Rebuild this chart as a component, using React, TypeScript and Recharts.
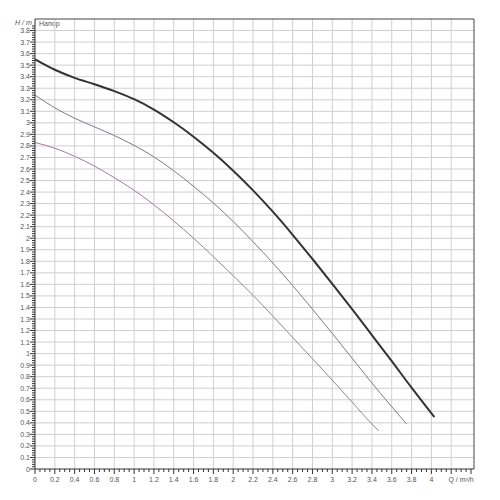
import { LineChart, Line, XAxis, YAxis, ReferenceLine } from "recharts";

// flow Q (m³/h) and head H (m), one array per speed
const qHigh = [0, 0.2, 0.4, 0.6, 0.8, 1.0, 1.2, 1.4, 1.6, 1.8, 2.0, 2.2, 2.4, 2.6, 2.8, 3.0, 3.2, 3.4, 3.6, 3.8, 4.03];
const hHigh = [3.55, 3.46, 3.39, 3.335, 3.275, 3.205, 3.115, 3.005, 2.88, 2.74, 2.585, 2.415, 2.23, 2.03, 1.82, 1.605, 1.385, 1.16, 0.935, 0.705, 0.45];

const qMid = [0, 0.2, 0.4, 0.6, 0.8, 1.0, 1.2, 1.4, 1.6, 1.8, 2.0, 2.2, 2.4, 2.6, 2.8, 3.0, 3.2, 3.4, 3.75];
const hMid = [3.24, 3.13, 3.04, 2.965, 2.89, 2.805, 2.705, 2.585, 2.45, 2.305, 2.145, 1.97, 1.785, 1.59, 1.385, 1.175, 0.96, 0.745, 0.39];

const qLow = [0, 0.2, 0.4, 0.6, 0.8, 1.0, 1.2, 1.4, 1.6, 1.8, 2.0, 2.2, 2.4, 2.6, 2.8, 3.0, 3.2, 3.4, 3.47];
const hLow = [2.83, 2.78, 2.71, 2.625, 2.525, 2.415, 2.29, 2.15, 2.0, 1.84, 1.675, 1.505, 1.325, 1.14, 0.955, 0.77, 0.58, 0.39, 0.33];

// axes
const qMax = 4.43;
const hMax = 3.9;
const qGrid = [0.2, 0.4, 0.6, 0.8, 1, 1.2, 1.4, 1.6, 1.8, 2, 2.2, 2.4, 2.6, 2.8, 3, 3.2, 3.4, 3.6, 3.8, 4, 4.2];
const qLabelMax = 4;
const qTicks = Array.from({ length: 89 }, (_, i) => Math.round(i * 5) / 100);
const hTicks = Array.from({ length: 196 }, (_, i) => Math.round(i * 2) / 100);
const hGrid = Array.from({ length: 38 }, (_, i) => Math.round((i + 1) * 10) / 100);

const highData = qHigh.map((q, i) => ({ q, h: hHigh[i] }));
const midData = qMid.map((q, i) => ({ q, h: hMid[i] }));
const lowData = qLow.map((q, i) => ({ q, h: hLow[i] }));

const font = "'Liberation Sans', Arial, sans-serif";
const labelColor = "#555";
const tickColor = "#333";
const gridColor = "#cfcfcf";

const isStep = (v: number, step: number) => Math.abs(v / step - Math.round(v / step)) < 1e-6;
const fmt = (v: number) => String(Math.round(v * 10) / 10);

function QTick({ x, y, payload }: any) {
  const v = payload.value;
  const major = isStep(v, 0.2);
  return (
    <g>
      <line x1={x} x2={x} y1={y} y2={y + (major ? 5 : 3)} stroke={tickColor} strokeWidth={1} />
      {major && v <= qLabelMax + 1e-6 && (
        <text x={x} y={y + 12.5} textAnchor="middle" fontSize={7} fontFamily={font} fill={labelColor}>
          {fmt(v)}
        </text>
      )}
      {Math.abs(v - 4.3) < 1e-6 && (
        <text x={x} y={y + 12.5} textAnchor="middle" fontSize={7} fontFamily={font} fill={labelColor}>
          Q / m³/h
        </text>
      )}
    </g>
  );
}

function HTick({ x, y, payload }: any) {
  const v = payload.value;
  const major = isStep(v, 0.1);
  if (v > hMax - 0.05) return <g />;
  return (
    <g>
      <line x1={x} x2={x - (major ? 5 : 3)} y1={y} y2={y} stroke={tickColor} strokeWidth={1} />
      {major && (
        <text x={x - 5} y={y + 2.5} textAnchor="end" fontSize={7} fontFamily={font} fill={labelColor}>
          {fmt(v)}
        </text>
      )}
    </g>
  );
}

export default function App() {
  return (
    <div style={{ position: "absolute", left: 0, top: 0, width: 500, height: 500, background: "#fff" }}>
      <LineChart width={500} height={500} margin={{ top: 19, right: 26, bottom: 0, left: 0 }}>
        <XAxis
          type="number"
          dataKey="q"
          domain={[0, qMax]}
          ticks={qTicks}
          interval={0}
          height={31}
          tickSize={0}
          tickMargin={0}
          tickLine={false}
          axisLine={{ stroke: tickColor }}
          tick={<QTick />}
          allowDataOverflow
        />
        <YAxis
          type="number"
          domain={[0, hMax]}
          ticks={hTicks}
          interval={0}
          width={35}
          tickSize={0}
          tickMargin={0}
          tickLine={false}
          axisLine={{ stroke: tickColor }}
          tick={<HTick />}
          allowDataOverflow
        />
        {qGrid.map((v) => (
          <ReferenceLine key={"qx" + v} x={v} stroke={gridColor} />
        ))}
        {hGrid.map((v) => (
          <ReferenceLine key={"hy" + v} y={v} stroke={gridColor} />
        ))}
        <ReferenceLine y={hMax} stroke="#444" />
        <ReferenceLine x={qMax} stroke="#444" />
        <Line data={lowData} dataKey="h" type="monotone" stroke="#a07ca4" strokeWidth={1} dot={false} isAnimationActive={false} />
        <Line data={midData} dataKey="h" type="monotone" stroke="#84778a" strokeWidth={1} dot={false} isAnimationActive={false} />
        <Line data={highData} dataKey="h" type="monotone" stroke="#333" strokeWidth={2} dot={false} isAnimationActive={false} />
        <text x={15} y={25} fontSize={7} fontStyle="italic" fontFamily={font} fill={labelColor}>
          H / m
        </text>
        <text x={39} y={26} fontSize={7} fontFamily={font} fill={labelColor}>
          Напор
        </text>
      </LineChart>
    </div>
  );
}
